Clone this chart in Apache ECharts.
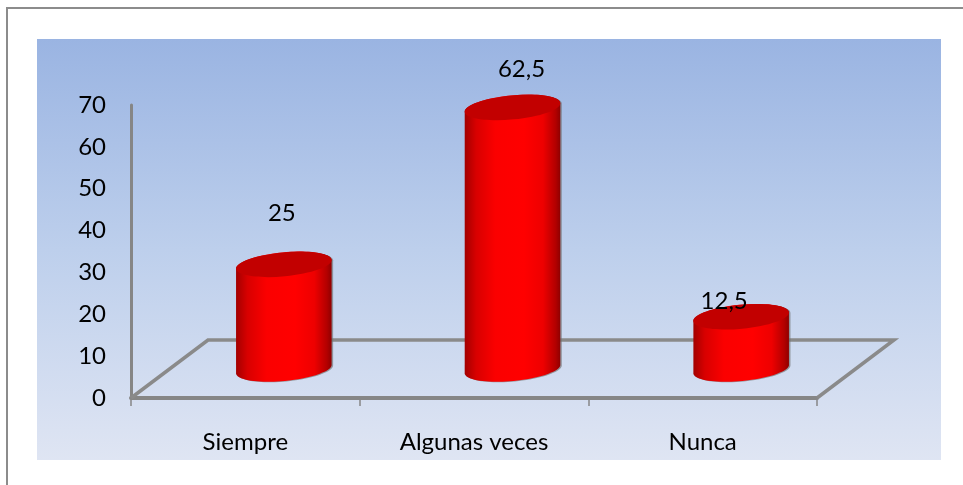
<!DOCTYPE html>
<html><head><meta charset="utf-8">
<style>html,body{margin:0;padding:0;background:#fff}#c{width:963px;height:485px}</style>
<script src="https://cdn.jsdelivr.net/npm/echarts@6/dist/echarts.min.js"></script>
</head><body><div id="c"></div>
<script>
var categories = ['Siempre', 'Algunas veces', 'Nunca'];
var values = [25, 62.5, 12.5];
var valueLabels = ['25', '62,5', '12,5'];
var yTicks = [0, 10, 20, 30, 40, 50, 60, 70];

var FONT = 'Lato';
var FONT_SIZE = 24;
var DEPTH = [77, -58];
var RX = 48, RY = 12, TILT = -5.4 * Math.PI / 180;
var LABEL_SHIFT = [[-2, -51], [9, -38], [-17, -15]];

function ellipsePts(cx, cy, from, to, n) {
  var pts = [];
  for (var i = 0; i <= n; i++) {
    var t = from + (to - from) * i / n;
    var x = RX * Math.cos(t), y = RY * Math.sin(t);
    pts.push([cx + x * Math.cos(TILT) - y * Math.sin(TILT),
              cy + x * Math.sin(TILT) + y * Math.cos(TILT)]);
  }
  return pts;
}

var chart = echarts.init(document.getElementById('c'), null, {renderer: 'canvas'});
chart.setOption({
  animation: false,
  backgroundColor: '#ffffff',
  graphic: {elements: [
    {type: 'rect', z: -10, shape: {x: 37, y: 39, width: 904, height: 421}, style: {
      fill: new echarts.graphic.LinearGradient(0, 0, 0, 1, [
        {offset: 0, color: '#9ab4e2'}, {offset: 0.5, color: '#bdcfec'}, {offset: 1, color: '#dfe5f3'}])}},
    {type: 'polyline', z: -9, shape: {points: [[7, 485], [7, 8], [963, 8]]},
      style: {stroke: '#8c8c8c', lineWidth: 2, fill: null}}
  ]},
  grid: {left: 131, right: 146, top: 105, bottom: 87, containLabel: false},
  xAxis: {
    type: 'category', data: categories,
    axisLine: {show: true, lineStyle: {color: '#868686', width: 4}},
    axisTick: {show: true, length: 8, lineStyle: {color: '#868686', width: 1.5}},
    axisLabel: {color: '#000', fontFamily: FONT, fontSize: FONT_SIZE, margin: 32}
  },
  yAxis: {
    type: 'value', min: 0, max: 70, interval: 10,
    axisLine: {show: true, onZero: false, lineStyle: {color: '#868686', width: 3}},
    axisTick: {show: false},
    splitLine: {show: false},
    axisLabel: {color: '#000', fontFamily: FONT, fontSize: FONT_SIZE, margin: 25,
      formatter: function (v) { return yTicks.indexOf(v) >= 0 ? String(v) : ''; }}
  },
  series: [
    {
      type: 'custom', silent: true, z: 1, clip: false, data: [[0, 0]],
      renderItem: function (p, api) {
        var cs = p.coordSys;
        var a = [cs.x, cs.y + cs.height];
        var b = [cs.x + cs.width, cs.y + cs.height];
        return {type: 'polyline', shape: {points: [
          a, [a[0] + DEPTH[0], a[1] + DEPTH[1]], [b[0] + DEPTH[0], b[1] + DEPTH[1]], b]},
          style: {stroke: '#8a8a8a', lineWidth: 3.5, fill: null, lineJoin: 'miter'}};
      }
    },
    {
      type: 'custom', silent: true, z: 2, clip: false,
      data: values.map(function (v, i) { return [i, v]; }),
      encode: {x: 0, y: 1},
      renderItem: function (p, api) {
        var base = api.coord([api.value(0), 0]);
        var top = api.coord([api.value(0), api.value(1)]);
        var cx = base[0] + DEPTH[0] / 2;
        var by = base[1] + DEPTH[1] / 2;
        var ty = top[1] + DEPTH[1] / 2;
        var botArc = ellipsePts(cx, by, 0, Math.PI, 40);
        var body = botArc.concat(ellipsePts(cx, ty, Math.PI, 2 * Math.PI, 40));
        var shadow = body.map(function (q) { return [q[0] + 1.5, q[1] + 0.5]; });
        var grad = new echarts.graphic.LinearGradient(0, 0, 1, 0, [
          {offset: 0, color: '#a30000'}, {offset: 0.12, color: '#d80000'}, {offset: 0.32, color: '#fb0000'},
          {offset: 0.62, color: '#ff0000'}, {offset: 0.82, color: '#ee0000'}, {offset: 0.95, color: '#b30000'},
          {offset: 1, color: '#8f0000'}]);
        var i = p.dataIndex;
        return {type: 'group', children: [
          {type: 'polygon', shape: {points: shadow}, style: {fill: 'rgba(110,110,110,0.65)'}},
          {type: 'polygon', shape: {points: body}, style: {fill: grad}},
          {type: 'ellipse', x: cx, y: ty, rotation: -TILT, shape: {cx: 0, cy: 0, rx: RX, ry: RY},
            style: {fill: '#c20000'}},
          {type: 'text', x: cx + LABEL_SHIFT[i][0], y: ty + LABEL_SHIFT[i][1],
            style: {text: valueLabels[i], fill: '#000', font: FONT_SIZE + 'px ' + FONT, align: 'center', verticalAlign: 'middle'}}
        ]};
      }
    }
  ]
});
</script></body></html>
